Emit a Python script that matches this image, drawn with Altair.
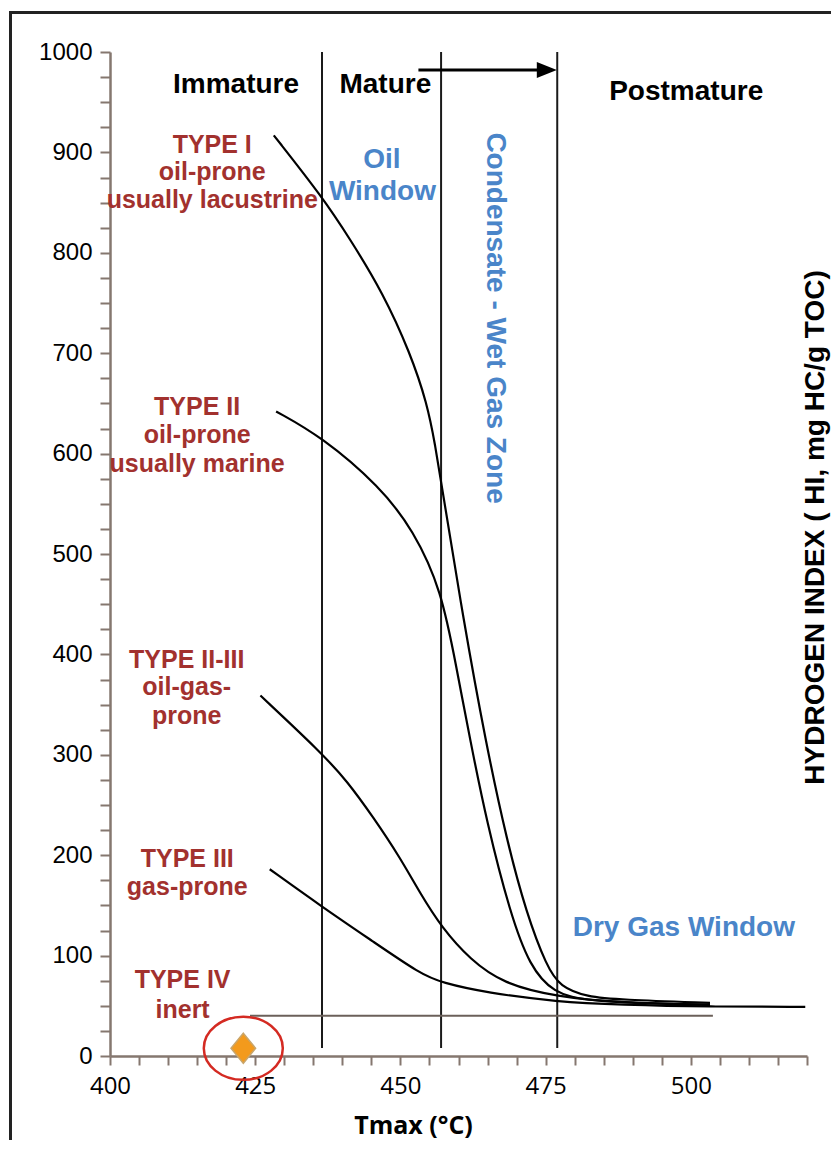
import altair as alt
import pandas as pd

# ---------------- data ----------------
type1_x = [428.2, 436.5, 441.3, 447.0, 451.7, 454.6, 456.0, 457.0, 460.8, 464.7, 468.3, 471.7, 475.2, 477.5, 482.1, 487.8, 503.3]
type1_y = [917, 856, 814, 760, 700, 650, 608, 572, 436, 312, 215, 142, 89, 69, 59, 56, 53]

type2_x = [428.6, 436.4, 446.5, 452.2, 457.1, 459.7, 462.0, 464.9, 468.9, 472.3, 476.3, 482.1, 503.3]
type2_y = [642, 617, 567, 524, 464, 385, 315, 232, 142, 89, 63, 54, 51]

type23_x = [425.9, 436.4, 440.8, 445.3, 449.9, 453.4, 457.1, 462.0, 467.7, 476.9, 487.8, 503.3]
type23_y = [359, 302, 274, 238, 198, 162, 128, 96, 72, 59, 53, 51]

type3_x = [427.5, 436.4, 445.3, 453.4, 457.1, 464.9, 476.9, 487.8, 503.3, 519.7]
type3_y = [186, 149, 114, 82, 73, 63, 54, 51, 49, 49]

stage_bounds = [436.5, 457.0, 477.0]
stage_y_low, stage_y_high = 8, 1000

type4_x = [424.1, 503.8]
type4_y = 40

arrow_x = [453.1, 475.2]
arrow_y = 982

sample_x, sample_y = 422.95, 7.7

header_text = ["Immature", "Mature", "Postmature"]
header_x = [421.7, 447.4, 499.2]
header_y = [959.2, 959.2, 952.2]

kerogen_text = ["TYPE I", "oil-prone", "usually lacustrine",
                "TYPE II", "oil-prone", "usually marine",
                "TYPE II-III", "oil-gas-", "prone",
                "TYPE III", "gas-prone",
                "TYPE IV", "inert"]
kerogen_x = [417.6, 417.6, 417.6, 415.0, 415.0, 415.0, 413.2, 413.2, 413.2, 413.3, 413.3, 412.5, 412.5]
kerogen_y = [899.4, 872.5, 844.6, 638.4, 610.6, 581.7, 386.5, 359.6, 330.7, 188.2, 160.4, 67.7, 37.8]

window_text = ["Oil", "Window", "Dry Gas Window"]
window_x = [446.8, 446.9, 498.8]
window_y = [884.0, 852.6, 119.7]

zone_text = ["Condensate - Wet Gas Zone"]
zone_x = [466.3]
zone_y = [735.0]

# ---------------- build tables ----------------
def series(name, xs, ys):
    return pd.DataFrame({"x": xs, "y": ys, "series": name})

curves = pd.concat([
    series("Type I", type1_x, type1_y),
    series("Type II", type2_x, type2_y),
    series("Type II-III", type23_x, type23_y),
    series("Type III", type3_x, type3_y),
], ignore_index=True)
curves["order"] = range(len(curves))

bounds = pd.DataFrame({"x": stage_bounds, "y1": stage_y_low, "y2": stage_y_high})
t4 = pd.DataFrame({"x1": [type4_x[0]], "x2": [type4_x[1]], "y": [type4_y]})
arrow = pd.DataFrame({"x1": [arrow_x[0]], "x2": [arrow_x[1]], "y": [arrow_y]})
sample = pd.DataFrame({"x": [sample_x], "y": [sample_y]})
headers = pd.DataFrame({"t": header_text, "x": header_x, "y": header_y})
kerogen = pd.DataFrame({"t": kerogen_text, "x": kerogen_x, "y": kerogen_y})
windows = pd.DataFrame({"t": window_text, "x": window_x, "y": window_y})
zone = pd.DataFrame({"t": zone_text, "x": zone_x, "y": zone_y})
frame = pd.DataFrame({"k": [0]})

AXC = "#85776f"
RED = "#a2312e"
BLUE = "#4a85c9"

xs = alt.Scale(domain=[400, 520], nice=False, zero=False)
ys = alt.Scale(domain=[0, 1000], nice=False, zero=False)

xaxis = alt.Axis(
    values=list(range(400, 521, 5)),
    labelExpr="datum.value % 25 === 0 ? datum.label : ''",
    format="d", grid=False,
    title="Tmax (°C)", titleFont="Open Sans", titleFontSize=25, titleFontWeight="bold",
    titleColor="black", titleX=303, titleY=77, titleAlign="center", titleBaseline="alphabetic",
    labelFont="Open Sans", labelFontSize=24, labelColor="black", labelPadding=9,
    labelFlush=False, labelOverlap=False,
    tickSize=9, tickColor=AXC, tickWidth=2, domainColor=AXC, domainWidth=2.5,
)
yaxis = alt.Axis(
    values=list(range(0, 1001, 25)),
    labelExpr="datum.value % 100 === 0 ? datum.label : ''",
    format="d", grid=False,
    title="HYDROGEN INDEX ( HI, mg HC/g TOC)", titleFont="Liberation Sans", titleFontSize=28,
    titleFontWeight="bold", titleColor="black", titleX=713, titleY=475, titleAngle=270,
    titleAlign="center", titleBaseline="alphabetic",
    labelFont="Liberation Sans", labelFontSize=24, labelColor="black", labelPadding=8,
    labelOverlap=False,
    tickSize=10, tickColor=AXC, tickWidth=2, domainColor=AXC, domainWidth=2.5,
)

def X(f):
    return alt.X(f, type="quantitative", scale=xs, axis=xaxis)

def Y(f):
    return alt.Y(f, type="quantitative", scale=ys, axis=yaxis)

frame_layer = alt.Chart(frame).mark_rect(fill="white", fillOpacity=0, stroke="#222222", strokeWidth=3).encode(
    x=alt.value(-99.5), x2=alt.value(800), y=alt.value(-39.5), y2=alt.value(1200)
)

bound_layer = alt.Chart(bounds).mark_rule(color="#1a1a1a", strokeWidth=2).encode(
    x=X("x"), y=Y("y1"), y2="y2"
)

t4_layer = alt.Chart(t4).mark_rule(color="#6b605a", strokeWidth=2).encode(
    x=X("x1"), x2="x2", y=Y("y")
)

curve_layer = alt.Chart(curves).mark_line(color="black", strokeWidth=2.2, interpolate="basis").encode(
    x=X("x"), y=Y("y"), detail="series:N", order="order:Q"
)

arrow_line = alt.Chart(arrow).mark_rule(color="black", strokeWidth=3).encode(
    x=X("x1"), x2="x2", y=Y("y")
)
arrow_head = alt.Chart(arrow).mark_point(
    shape="M1,0 L-1,-0.8 L-1,0.8 Z", size=400, filled=True, color="black", opacity=1
).encode(x=X("x2"), y=Y("y"))

diamond = alt.Chart(sample).mark_point(
    shape="M0,-1 L0.82,0 L0,1 L-0.82,0 Z", size=900, filled=True,
    fill="#f39a1c", stroke="#c9a56a", strokeWidth=1.5, opacity=1
).encode(x=X("x"), y=Y("y"))

ellipse = alt.Chart(sample).mark_point(
    shape="M-1,0 A1,0.8 0 1,1 1,0 A1,0.8 0 1,1 -1,0 Z", size=6241, filled=False,
    stroke="#d42a22", strokeWidth=2.5, opacity=1
).encode(x=X("x"), y=Y("y"))

header_layer = alt.Chart(headers).mark_text(
    font="Liberation Sans", fontSize=28, fontWeight="bold", color="black",
    align="center", baseline="alphabetic"
).encode(x=X("x"), y=Y("y"), text="t:N")

kerogen_layer = alt.Chart(kerogen).mark_text(
    font="Liberation Sans", fontSize=25, fontWeight="bold", color=RED,
    align="center", baseline="alphabetic"
).encode(x=X("x"), y=Y("y"), text="t:N")

window_layer = alt.Chart(windows).mark_text(
    font="Liberation Sans", fontSize=28, fontWeight="bold", color=BLUE,
    align="center", baseline="alphabetic"
).encode(x=X("x"), y=Y("y"), text="t:N")

zone_layer = alt.Chart(zone).mark_text(
    font="Liberation Sans", fontSize=28, fontWeight="bold", color=BLUE,
    align="center", baseline="middle", angle=90
).encode(x=X("x"), y=Y("y"), text="t:N")

chart = alt.layer(
    frame_layer, bound_layer, t4_layer, curve_layer, arrow_line, arrow_head,
    diamond, ellipse, header_layer, kerogen_layer, window_layer, zone_layer
).properties(
    width=697, height=1004,
    padding={"left": 102, "top": 44, "right": 24, "bottom": 84},
    autosize=alt.AutoSizeParams(type="none"),
    background="white",
).configure_view(strokeWidth=0)

chart.save("out.html", embed_options={"renderer": "svg", "actions": False})
